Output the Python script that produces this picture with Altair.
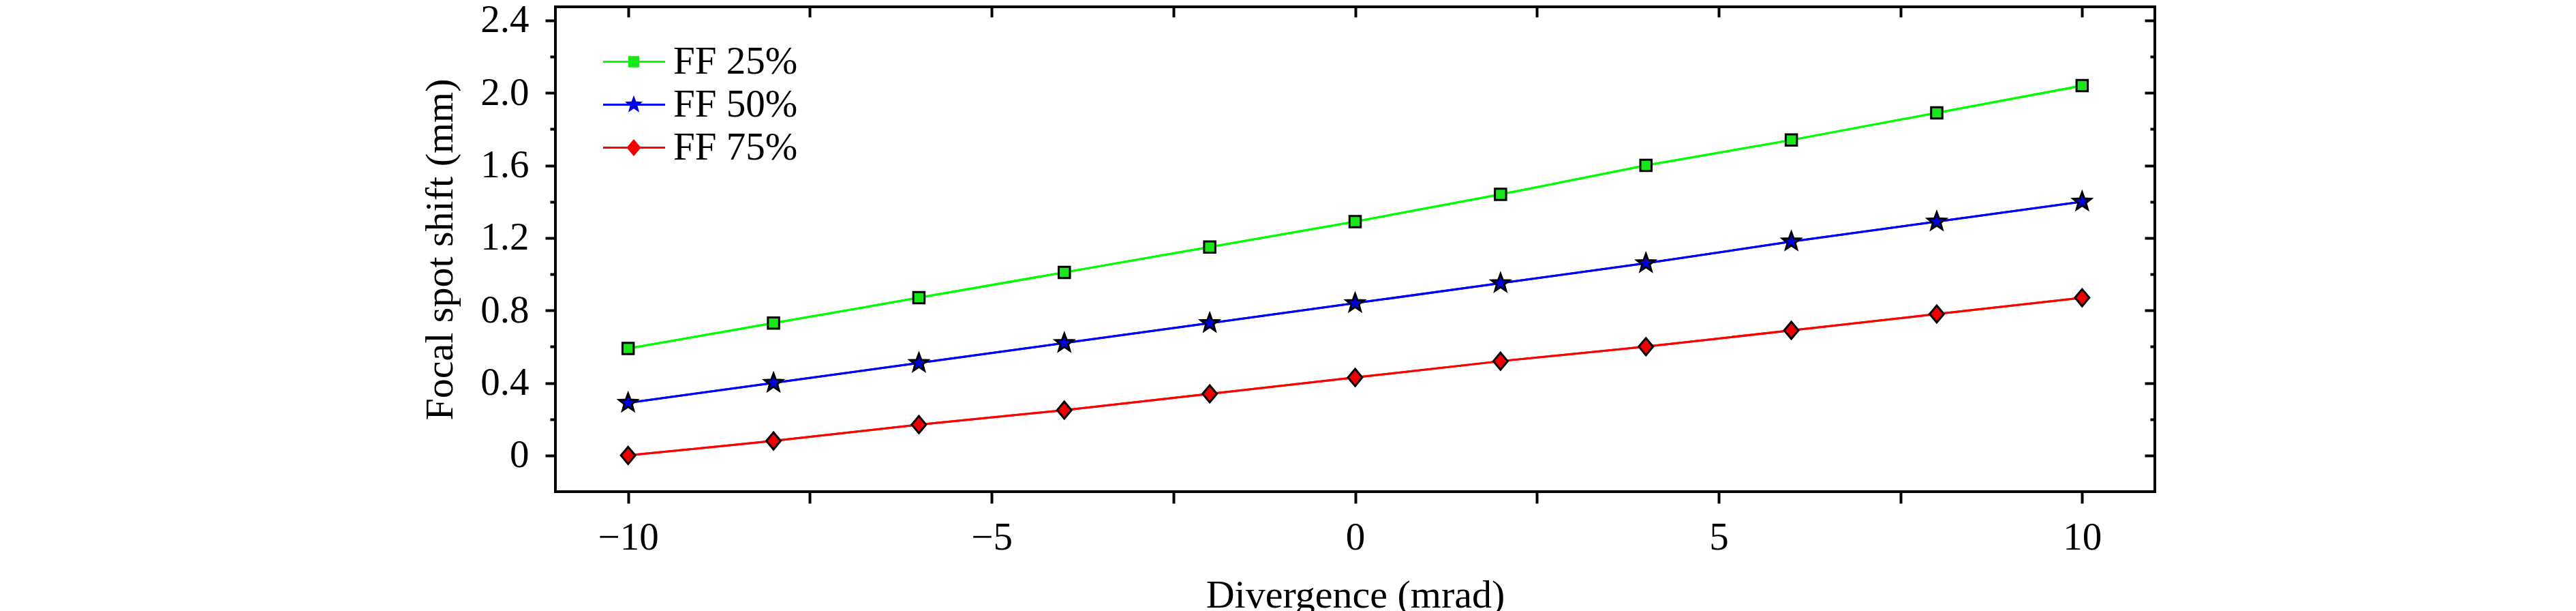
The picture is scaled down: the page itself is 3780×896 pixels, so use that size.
import altair as alt
import pandas as pd

# ---------------- data ----------------
divergence = [-10, -8, -6, -4, -2, 0, 2, 4, 6, 8, 10]
ff25 = [0.59, 0.73, 0.87, 1.01, 1.15, 1.29, 1.44, 1.60, 1.74, 1.89, 2.04]
ff50 = [0.29, 0.40, 0.51, 0.62, 0.73, 0.84, 0.95, 1.06, 1.18, 1.29, 1.40]
ff75 = [0.00, 0.08, 0.17, 0.25, 0.34, 0.43, 0.52, 0.60, 0.69, 0.78, 0.87]
series_names = ["FF 25%", "FF 50%", "FF 75%"]

x_ticks = [-10, -7.5, -5, -2.5, 0, 2.5, 5, 7.5, 10]
y_major = [0, 0.4, 0.8, 1.2, 1.6, 2.0, 2.4]
y_minor = [0.2, 0.6, 1.0, 1.4, 1.8, 2.2]
x_domain = [-11, 11]
y_domain = [-0.2, 2.475]

# ---------------- styles ----------------
line_colors = ["#00ff00", "#0000ff", "#ff0000"]
fill_colors = ["#19e619", "#0000e6", "#f00000"]
square_path = "M-0.66,-0.66L0.66,-0.66L0.66,0.66L-0.66,0.66Z"
star_path = ("M0,-1.1L0.27,-0.372L1.046,-0.34L0.437,0.142L0.647,0.89L0,0.46"
             "L-0.647,0.89L-0.437,0.142L-1.046,-0.34L-0.27,-0.372Z")
diamond_path = "M0,-1L0.84,0L0,1L-0.84,0Z"
shape_paths = [square_path, star_path, diamond_path]
FONT = "Liberation Serif"

rows = []
for name, vals in zip(series_names, [ff25, ff50, ff75]):
    for d, v in zip(divergence, vals):
        rows.append({"div": d, "shift": v, "series": name, "series2": name,
                     "marker": name})
df = pd.DataFrame(rows)

xs = alt.Scale(domain=x_domain, nice=False, zero=False)
ys = alt.Scale(domain=y_domain, nice=False, zero=False)


def tick_axis(orient, values, size, offset=0):
    return alt.Axis(orient=orient, values=values, tickSize=size, offset=offset,
                    tickWidth=4, tickColor="black", labels=False, domain=False,
                    grid=False, title=None)


def line_legend(x):
    # one half of the coloured line segment drawn in the legend (no label text)
    return alt.Legend(orient="none", legendX=x, legendY=52, title=None,
                      symbolType="stroke", symbolSize=2116, symbolStrokeWidth=3,
                      symbolOpacity=1, labelOffset=12, labelFont=FONT,
                      labelFontSize=57, labelOpacity=0, labelExpr="''",
                      rowPadding=5, padding=0)


legend_b = alt.Legend(orient="none", legendX=86.5, legendY=52, title=None,
                      symbolSize=625, symbolStrokeColor="black", symbolStrokeWidth=3,
                      symbolOpacity=1, labelOffset=29.5, labelLimit=600,
                      labelFont=FONT, labelFontSize=57, labelColor="black",
                      rowPadding=5, padding=0)

base = alt.Chart(df)

lines = base.mark_line(strokeWidth=3).encode(
    x=alt.X("div:Q", scale=xs, axis=alt.Axis(
        orient="bottom", values=x_ticks, tickSize=17, tickWidth=4, tickColor="black",
        domain=False, grid=False, labelFlush=False, labelOverlap=False,
        labelExpr="datum.value % 5 == 0 ? format(datum.value, 'd') : ''",
        labelFont=FONT, labelFontSize=57, labelColor="black", labelPadding=22,
        title="Divergence (mrad)", titleFont=FONT, titleFontSize=58,
        titleFontWeight="normal", titleColor="black", titlePadding=28)),
    y=alt.Y("shift:Q", scale=ys, axis=alt.Axis(
        orient="left", values=y_major, tickSize=15, tickWidth=4, tickColor="black",
        domain=False, grid=False, labelFlush=False, labelOverlap=False,
        labelExpr="datum.value == 0 ? '0' : format(datum.value, '.1f')",
        labelFont=FONT, labelFontSize=57, labelColor="black", labelPadding=24,
        title="Focal spot shift (mm)", titleFont=FONT, titleFontSize=58,
        titleFontWeight="normal", titleColor="black", titlePadding=29)),
    stroke=alt.Stroke("series:N", scale=alt.Scale(range=line_colors),
                      legend=line_legend(64.5)),
)

lines_b = base.mark_line(strokeWidth=3).encode(
    x=alt.X("div:Q", scale=xs, axis=tick_axis("top", x_ticks, 15, -15)),
    y=alt.Y("shift:Q", scale=ys, axis=tick_axis("right", y_major, 15, -15)),
    stroke=alt.Stroke("series2:N", scale=alt.Scale(range=line_colors),
                      legend=line_legend(109.5)),
)

points = base.mark_point(filled=True, size=625, stroke="black", strokeWidth=3,
                         opacity=1).encode(
    x=alt.X("div:Q", scale=xs, axis=None),
    y=alt.Y("shift:Q", scale=ys, axis=tick_axis("left", y_minor, 8)),
    fill=alt.Fill("marker:N", scale=alt.Scale(range=fill_colors), legend=legend_b),
    shape=alt.Shape("marker:N", scale=alt.Scale(range=shape_paths), legend=legend_b),
)

helper_minor = base.mark_line(strokeOpacity=0).encode(
    x=alt.X("div:Q", scale=xs, axis=None),
    y=alt.Y("shift:Q", scale=ys, axis=tick_axis("right", y_minor, 7, -7)),
)

chart = alt.layer(lines, lines_b, points, helper_minor).resolve_scale(
    x="shared", y="shared", stroke="independent"
).resolve_axis(
    x="independent", y="independent"
).resolve_legend(
    stroke="independent"
).properties(
    width=2347, height=711,
    autosize=alt.AutoSizeParams(type="none"),
    padding={"left": 807, "top": 2, "right": 600, "bottom": 182},
    background="white",
).configure_view(stroke="black", strokeWidth=4)

chart.save("out.html", embed_options={"renderer": "svg", "actions": False})
